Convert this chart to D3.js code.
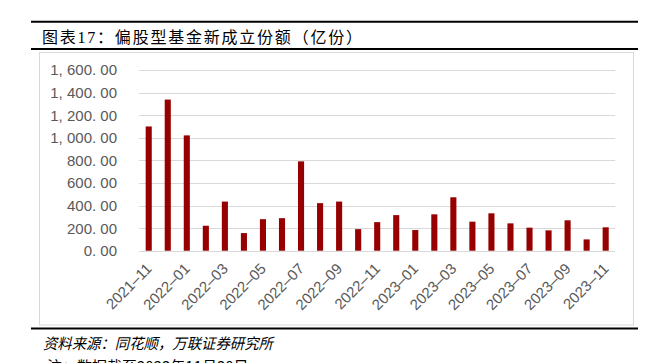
<!DOCTYPE html>
<html>
<head>
<meta charset="utf-8">
<script src="https://cdn.jsdelivr.net/npm/d3@7"></script>
<style>
  html, body { margin: 0; padding: 0; background: #fff; }
  svg { display: block; }
</style>
</head>
<body>
<div id="chart"></div>
<script>
const months = ["2021-11", "2021-12", "2022-01", "2022-02", "2022-03", "2022-04", "2022-05", "2022-06",
  "2022-07", "2022-08", "2022-09", "2022-10", "2022-11", "2022-12", "2023-01", "2023-02", "2023-03",
  "2023-04", "2023-05", "2023-06", "2023-07", "2023-08", "2023-09", "2023-10", "2023-11"];
const shares = [1100, 1338, 1021, 221, 435, 156, 279, 288, 791, 421, 435, 191, 253,
  315, 183, 322, 473, 257, 331, 242, 204, 180, 269, 100, 207];
const yTicks = [0, 200, 400, 600, 800, 1000, 1200, 1400, 1600];

const W = 654;
const H = 363;
const M = { top: 70, right: 38.8, bottom: 112.3, left: 139.2 };

const svg = d3.select("#chart").append("svg").attr("width", W).attr("height", H);

// Kopfzeile
svg.append("line").attr("x1", 31).attr("x2", 638).attr("y1", 21.7).attr("y2", 21.7)
  .attr("stroke", "#000").attr("stroke-width", 2);
svg.append("text")
  .attr("x", 42)
  .attr("y", 43)
  .attr("font-family", "'Liberation Serif', 'Noto Sans CJK SC', serif")
  .attr("font-size", 16)
  .attr("fill", "#000")
  .attr("textLength", 320)
  .attr("lengthAdjust", "spacing")
  .text("图表17：偏股型基金新成立份额（亿份）");
svg.append("line").attr("x1", 31).attr("x2", 638).attr("y1", 49).attr("y2", 49)
  .attr("stroke", "#000").attr("stroke-width", 2);

// Rahmen
svg.append("rect").attr("x", 39.5).attr("y", 52.5).attr("width", 594).attr("height", 272.5)
  .attr("fill", "none").attr("stroke", "#d9d9d9").attr("stroke-width", 1);

const x = d3.scaleBand()
  .domain(months)
  .range([M.left, 615.2])
  .paddingInner(0.68)
  .paddingOuter(0.34);

const y = d3.scaleLinear()
  .domain([0, 1600])
  .range([250.7, M.top]);

const fmt = v => d3.format(",.2f")(v).replace(",", ", ").replace(".", ". ");

// Gitter
svg.append("g")
  .selectAll("line")
  .data(yTicks)
  .join("line")
  .attr("x1", M.left)
  .attr("x2", 615.2)
  .attr("y1", d => Math.round(y(d)) + 0.5)
  .attr("y2", d => Math.round(y(d)) + 0.5)
  .attr("stroke", "#d9d9d9")
  .attr("stroke-width", 1);

// Y-Achse
svg.append("g")
  .selectAll("text")
  .data(yTicks)
  .join("text")
  .attr("x", 117)
  .attr("y", d => y(d))
  .attr("dy", "0.36em")
  .attr("text-anchor", "end")
  .attr("font-family", "'Liberation Sans', Arial, sans-serif")
  .attr("font-size", 15)
  .attr("fill", "#595959")
  .text(fmt);

// Balken
svg.append("g")
  .selectAll("rect")
  .data(months.map((m, i) => ({ m, v: shares[i] })))
  .join("rect")
  .attr("x", d => x(d.m))
  .attr("y", d => y(d.v))
  .attr("width", x.bandwidth())
  .attr("height", d => y(0) - y(d.v))
  .attr("fill", "#960000");

// X-Achse
svg.append("g")
  .selectAll("text")
  .data(months.filter((m, i) => i % 2 === 0))
  .join("text")
  .attr("transform", d => `translate(${x(d) + x.bandwidth() / 2 + 4},${y(0) + 19}) rotate(-45)`)
  .attr("text-anchor", "end")
  .attr("font-family", "'Liberation Sans', Arial, sans-serif")
  .attr("font-size", 15)
  .attr("fill", "#595959")
  .text(d => d.replace("-", "–"));

// Fusszeile
svg.append("line").attr("x1", 31).attr("x2", 638).attr("y1", 328.5).attr("y2", 328.5)
  .attr("stroke", "#000").attr("stroke-width", 2);
svg.append("text")
  .attr("x", 43)
  .attr("y", 349)
  .attr("font-family", "'Noto Sans CJK SC', sans-serif")
  .attr("font-size", 15)
  .attr("font-style", "italic")
  .attr("fill", "#000")
  .attr("textLength", 230)
  .attr("lengthAdjust", "spacingAndGlyphs")
  .text("资料来源：同花顺，万联证券研究所");
svg.append("text")
  .attr("x", 47)
  .attr("y", 372)
  .attr("font-family", "'Noto Sans CJK SC', sans-serif")
  .attr("font-size", 15)
  .attr("fill", "#000")
  .text("注：数据截至2023年11月30日");
</script>
</body>
</html>
